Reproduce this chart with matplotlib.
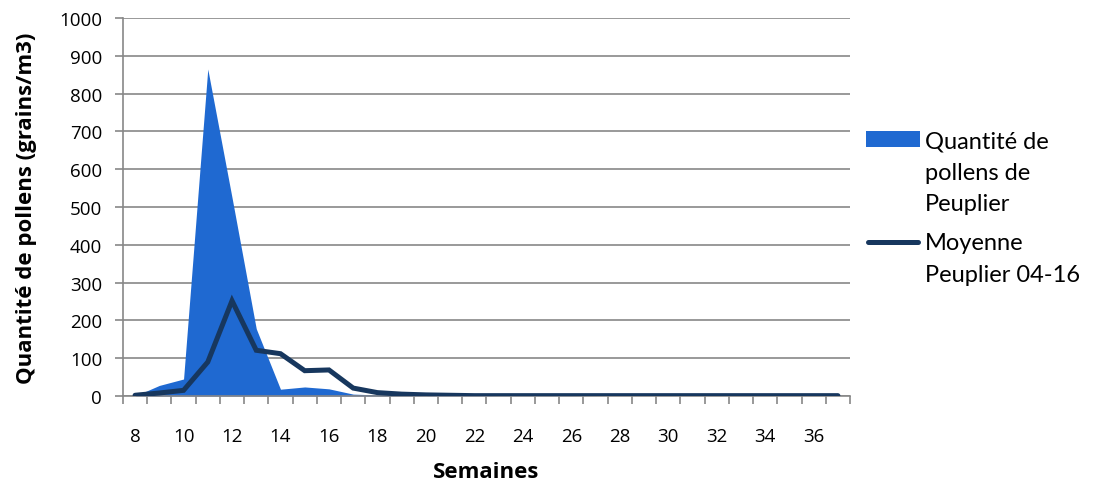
import matplotlib.pyplot as plt
from matplotlib.patches import Rectangle
from matplotlib.lines import Line2D
from matplotlib.ticker import MultipleLocator, FixedLocator

plt.rcParams['font.family'] = ['Open Sans', 'DejaVu Sans']

# weeks and pollen counts
semaines = list(range(8, 38))
quantite = [0, 28, 45, 865, 525, 178, 18, 24, 19, 5, 3, 2, 1, 6, 2, 1, 1, 1, 1, 0,
            0, 0, 0, 0, 0, 0, 0, 0, 0, 0]
moyenne = [2, 8, 15, 90, 252, 121, 112, 67, 69, 21, 9, 5, 3, 2, 1, 1, 1, 1, 1, 1,
           1, 1, 1, 1, 1, 1, 1, 1, 1, 1]
tick_labels = [str(w) for w in range(8, 38, 2)]

W, H = 1093, 485
fig = plt.figure(figsize=(W / 100, H / 100), dpi=100)
ax = fig.add_axes([0.1125, 0.1814, 0.6652, 0.7794])

ax.fill_between(semaines, quantite, 0, color='#1f69d1', linewidth=0, zorder=2)
ax.plot(semaines, moyenne, color='#17375e', linewidth=3.6, solid_capstyle='round',
        solid_joinstyle='miter', zorder=3)

ax.set_xlim(7.5, 37.5)
ax.set_ylim(0, 1000)
ax.yaxis.set_major_locator(MultipleLocator(100))
ax.grid(axis='y', color='#878787', linewidth=1.2, zorder=0)
ax.set_axisbelow(True)

ax.set_xticks(list(range(8, 38, 2)))
ax.set_xticklabels(tick_labels)
ax.tick_params(axis='x', which='major', length=0, labelsize=13.5, pad=22)
ax.xaxis.set_minor_locator(FixedLocator([w + 0.5 for w in range(7, 38)]))
ax.tick_params(axis='x', which='minor', length=6, color='#878787', width=1.2)
ax.tick_params(axis='y', length=6, color='#878787', width=1.2, labelsize=13.5, pad=9)

for s in ['top', 'right']:
    ax.spines[s].set_visible(False)
ax.spines['left'].set_color('#878787')
ax.spines['left'].set_linewidth(1.2)
ax.spines['bottom'].set_color('#878787')
ax.spines['bottom'].set_linewidth(1.2)

ax.set_ylabel('Quantité de pollens (grains/m3)', fontsize=16, fontweight='bold', labelpad=16)
ax.set_xlabel('Semaines', fontsize=16, fontweight='bold', labelpad=12)

# legend drawn by hand: handle sits on the first line of its label (Excel style)
leg_font = {'family': ['Lato', 'DejaVu Sans'], 'size': 17}
fig.add_artist(Rectangle((866 / W, 1 - 148 / H), 54 / W, 16 / H,
                         transform=fig.transFigure, facecolor='#1f69d1', edgecolor='none'))
fig.add_artist(Line2D([868 / W, 918 / W], [1 - 243 / H, 1 - 243 / H],
                      transform=fig.transFigure, color='#17375e', linewidth=3.6,
                      solid_capstyle='round'))
labels = [('Quantité de\npollens de\nPeuplier', 148), ('Moyenne\nPeuplier 04-16', 250)]
for label, base in labels:
    for i, line in enumerate(label.split('\n')):
        fig.text(925 / W, 1 - (base + i * 31.5) / H, line, va='baseline', ha='left',
                 fontdict=leg_font, color='#000000')

fig.savefig('out.png', dpi=100)
